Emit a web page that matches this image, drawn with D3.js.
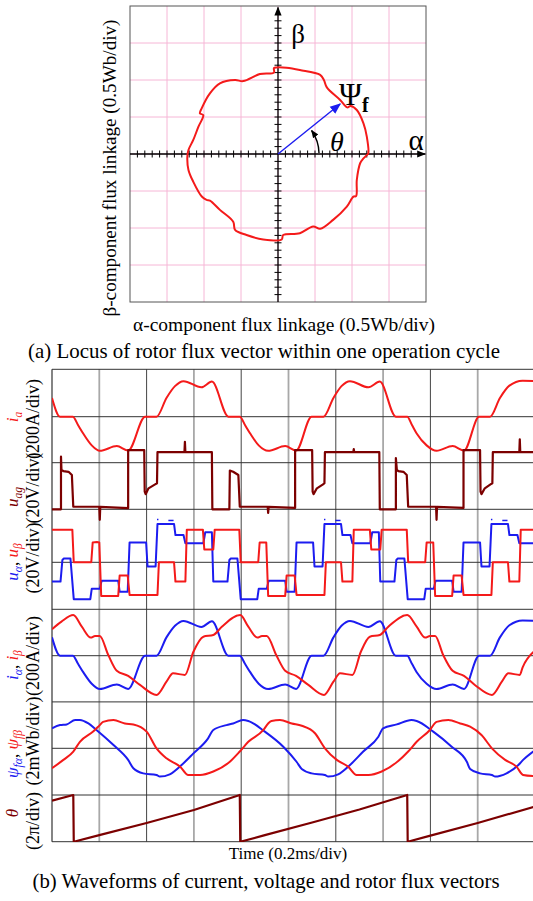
<!DOCTYPE html>
<html><head><meta charset="utf-8">
<script src="https://cdn.jsdelivr.net/npm/d3@7"></script>
<style>
body{margin:0;background:#fff}
svg{display:block}
text{font-family:"Liberation Serif","Times New Roman",serif}
</style>
</head><body>
<svg id="c" width="533" height="901"></svg>
<script>
// ---------------- DATA ----------------
// (a) rotor flux locus, Wb (alpha, beta)
const locusAlpha = [1.22,1.20,1.155,1.065,0.98,0.935,0.84,0.66,0.62,0.57,0.295,0.115,-0.02,-0.055,-0.055,-0.245,-0.47,-0.58,-0.785,-0.92,-1.03,-1.055,-1.01,-1.075,-1.145,-1.21,-1.225,-1.21,-1.145,-1.03,-0.965,-0.92,-0.785,-0.605,-0.58,-0.425,-0.20,0.05,0.07,0.295,0.475,0.57,0.745,0.93,1.02,1.055,1.065,1.11,1.155,1.20];
const locusBeta  = [0.01,0.235,0.415,0.595,0.65,0.63,0.73,0.90,1.0,1.07,1.135,1.165,1.17,1.16,1.10,1.08,0.985,1.0,0.955,0.82,0.62,0.55,0.525,0.37,0.19,0.055,-0.035,-0.215,-0.375,-0.575,-0.62,-0.63,-0.755,-0.915,-1.025,-1.095,-1.155,-1.155,-1.095,-1.07,-0.98,-1.01,-0.89,-0.71,-0.575,-0.57,-0.35,-0.125,-0.06,-0.015];
const psiVector = [0.84, 0.675];
const locusTickStep = 0.1;   // minor ticks, Wb
const locusGridStep = 0.5;   // 0.5 Wb/div

// (b) waveforms: [time (div, 0.2 ms/div), value]
const ia = [[0,79],[0.17,0],[0.44,0],[0.55,-35],[0.66,-71],[0.84,-121],[1.01,-144],[1.37,-124],[1.61,-143],[1.97,0],[2.21,0],[2.42,79],[2.60,129],[2.78,150],[3.16,124],[3.38,148],[3.73,0],[3.97,0],[4.08,-35],[4.19,-71],[4.37,-121],[4.57,-144],[4.93,-124],[5.16,-143],[5.49,0],[5.74,0],[5.95,79],[6.12,129],[6.30,150],[6.69,124],[6.93,148],[7.27,0],[7.51,0],[7.61,-35],[7.71,-71],[7.92,-121],[8.13,-144],[8.47,-124],[8.71,-143],[9.03,0],[9.26,0],[9.47,79],[9.67,131],[9.95,152],[10.2,150]];
const uag = [[0,0],[0.19,0],[0.19,22.6],[0.20,17],[0.24,16.4],[0.35,16.1],[0.42,14.7],[0.45,1.1],[1.0,1.1],[1.01,-4.5],[1.02,1.0],[1.61,0.5],[1.61,25.4],[1.95,25.4],[1.96,7.6],[1.98,6.5],[2.04,9.0],[2.18,10.7],[2.22,11.2],[2.23,24.5],[2.80,24.5],[2.81,29],[2.82,24.5],[3.38,24.5],[3.39,0],[3.75,0],[3.76,16.6],[3.83,16.1],[3.94,14.7],[3.97,1.1],[4.56,1.1],[4.57,-1.5],[4.58,1.0],[5.14,0.6],[5.14,25.4],[5.50,25.4],[5.51,7.6],[5.53,6.5],[5.60,9.0],[5.73,10.7],[5.76,11.2],[5.77,24.5],[6.37,24.5],[6.38,25.8],[6.39,24.5],[6.92,24.5],[6.93,0],[7.27,0],[7.27,22],[7.29,17],[7.32,16.4],[7.43,16.1],[7.50,14.7],[7.53,1.1],[8.12,1.1],[8.13,-4.5],[8.14,1.0],[8.70,0.6],[8.70,25.4],[9.05,25.4],[9.06,7.6],[9.08,6.5],[9.15,9.0],[9.27,10.7],[9.31,11.2],[9.32,24.5],[9.88,24.5],[9.89,30],[9.90,24.5],[10.2,24.5]];
const uAlpha = [[0,-8.2],[0.18,-8.2],[0.22,1.0],[0.25,1.6],[0.39,1.6],[0.46,-15.7],[0.81,-15.7],[0.84,-11.3],[1.01,-11.3],[1.05,-7.8],[1.40,-7.8],[1.43,-12.5],[1.60,-12.5],[1.64,8.4],[1.99,8.4],[2.02,-1.8],[2.19,-1.8],[2.23,16.3],[2.58,16.3],[2.61,11.6],[2.78,11.6],[2.82,8.1],[3.20,8.1],[3.24,12.8],[3.38,12.8],[3.41,-8.2],[3.71,-8.2],[3.75,1.0],[3.78,1.6],[3.92,1.6],[3.99,-15.7],[4.34,-15.7],[4.37,-11.3],[4.54,-11.3],[4.58,-7.8],[4.93,-7.8],[4.96,-12.5],[5.13,-12.5],[5.17,8.4],[5.52,8.4],[5.55,-1.8],[5.72,-1.8],[5.76,16.3],[6.11,16.3],[6.14,11.6],[6.31,11.6],[6.35,8.1],[6.73,8.1],[6.77,12.8],[6.91,12.8],[6.94,-8.2],[7.24,-8.2],[7.28,1.0],[7.31,1.6],[7.45,1.6],[7.52,-15.7],[7.87,-15.7],[7.90,-11.3],[8.07,-11.3],[8.11,-7.8],[8.46,-7.8],[8.49,-12.5],[8.66,-12.5],[8.70,8.4],[9.05,8.4],[9.08,-1.8],[9.25,-1.8],[9.29,16.3],[9.64,16.3],[9.67,11.6],[9.84,11.6],[9.88,8.1],[10.2,8.1]];
const uAlphaGlitches = [[2.22,2.25,18.2],[2.46,2.57,17.8],[5.75,5.78,18.2],[5.99,6.10,17.8],[9.28,9.31,18.2],[9.52,9.63,17.8]];
const uBeta = [[0,13.9],[0.43,13.9],[0.46,0],[0.83,0],[0.86,8.4],[0.95,8.6],[1.0,8.4],[1.04,-14.3],[1.40,-14.3],[1.43,-5.6],[1.60,-5.6],[1.64,-13.9],[2.23,-13.9],[2.26,0],[2.58,0],[2.61,-8.2],[2.82,-8.2],[2.85,13.9],[3.19,13.9],[3.22,5.5],[3.41,5.5],[3.44,13.9],[3.96,13.9],[3.99,0],[4.36,0],[4.39,8.4],[4.53,8.4],[4.57,-14.3],[4.93,-14.3],[4.96,-5.6],[5.13,-5.6],[5.17,-13.9],[5.76,-13.9],[5.79,0],[6.11,0],[6.14,-8.2],[6.35,-8.2],[6.38,13.9],[6.72,13.9],[6.75,5.5],[6.94,5.5],[6.97,13.9],[7.50,13.9],[7.53,0],[7.89,0],[7.92,8.4],[8.06,8.4],[8.10,-14.3],[8.46,-14.3],[8.49,-5.6],[8.66,-5.6],[8.70,-13.9],[9.29,-13.9],[9.32,0],[9.64,0],[9.67,-8.2],[9.88,-8.2],[9.91,13.9],[10.2,13.9]];
const iAlpha = [[0,79],[0.17,0],[0.44,0],[0.55,-35],[0.66,-71],[0.84,-121],[1.01,-144],[1.37,-124],[1.61,-143],[1.97,0],[2.21,0],[2.42,79],[2.60,129],[2.78,150],[3.16,124],[3.38,148],[3.73,0],[3.97,0],[4.08,-35],[4.19,-71],[4.37,-121],[4.57,-144],[4.93,-124],[5.16,-143],[5.49,0],[5.74,0],[5.95,79],[6.12,129],[6.30,150],[6.69,124],[6.93,148],[7.27,0],[7.51,0],[7.61,-35],[7.71,-71],[7.92,-121],[8.13,-144],[8.47,-124],[8.71,-143],[9.03,0],[9.26,0],[9.47,79],[9.67,131],[9.95,152],[10.2,150]];
const iBeta = [[0,114],[0.20,147],[0.45,175],[0.63,125],[0.82,78],[0.91,85],[1.01,85],[1.19,3],[1.37,-65],[1.61,-87],[1.86,-126],[2.21,-169],[2.42,-112],[2.56,-76],[2.81,-83],[2.99,17],[3.20,82],[3.41,89],[3.59,125],[3.98,175],[4.15,125],[4.34,78],[4.44,85],[4.54,85],[4.74,3],[4.93,-65],[5.16,-87],[5.42,-126],[5.75,-169],[5.95,-112],[6.09,-76],[6.35,-83],[6.53,17],[6.72,82],[6.93,89],[7.11,125],[7.51,175],[7.71,125],[7.89,78],[7.99,85],[8.10,85],[8.27,3],[8.47,-65],[8.71,-87],[8.94,-126],[9.30,-169],[9.51,-112],[9.65,-76],[9.89,-83],[9.95,-50],[10.2,20]];
const psiAlpha = [[0,0.86],[0.17,1.0],[0.31,1.03],[0.49,1.22],[0.59,1.22],[0.77,1.07],[0.94,0.79],[1.30,0.14],[1.61,-0.50],[1.72,-0.86],[1.93,-1.08],[2.21,-1.15],[2.28,-1.22],[2.49,-1.12],[2.74,-0.72],[2.99,-0.22],[3.30,0.43],[3.41,0.79],[3.69,1.0],[3.83,1.07],[4.04,1.22],[4.15,1.18],[4.50,0.72],[4.89,0.07],[5.17,-0.58],[5.28,-0.89],[5.49,-1.08],[5.77,-1.15],[5.84,-1.22],[6.05,-1.12],[6.30,-0.72],[6.58,-0.14],[6.90,0.50],[7.00,0.86],[7.29,1.03],[7.60,1.22],[7.71,1.18],[8.06,0.72],[8.45,0.07],[8.77,-0.58],[8.84,-0.89],[9.05,-1.08],[9.30,-1.15],[9.37,-1.22],[9.61,-1.08],[9.86,-0.72],[9.96,-0.50],[10.2,-0.1]];
const psiBeta = [[0,-0.86],[0.24,-0.50],[0.45,-0.14],[0.59,0.28],[0.87,0.72],[1.01,1.0],[1.08,1.14],[1.30,1.22],[1.54,1.07],[1.72,1.03],[2.00,0.72],[2.21,0],[2.42,-0.43],[2.71,-0.79],[2.88,-1.15],[3.13,-1.15],[3.41,-1.0],[3.76,-0.58],[3.97,-0.14],[4.15,0.28],[4.47,0.79],[4.57,1.07],[4.64,1.18],[4.82,1.22],[5.07,1.07],[5.28,0.97],[5.56,0.65],[5.77,0],[6.02,-0.50],[6.26,-0.79],[6.44,-1.15],[6.69,-1.15],[6.97,-1.0],[7.32,-0.55],[7.53,-0.14],[7.71,0.28],[7.99,0.79],[8.13,1.14],[8.38,1.22],[8.63,1.07],[8.84,0.93],[9.08,0.57],[9.30,0],[9.58,-0.50],[9.82,-0.79],[9.96,-1.15],[10.2,-1.2]];
const theta = [[0,0.88],[0.45,1.0],[0.46,0],[1.0,0.14],[2.0,0.40],[3.0,0.68],[3.97,1.0],[3.98,0],[4.5,0.14],[5.5,0.41],[6.5,0.69],[7.51,1.0],[7.52,0],[8.0,0.13],[9.0,0.40],[10.2,0.75]];
const timeDivs = [1,2,3,4,5,6,7,8,9];

// ---------------- DRAW ----------------
const svg = d3.select("#c");
const RED = "#f41a1a", BLUE = "#1c1cf0", DRED = "#7c0000";

svg.append("defs").html(`
 <marker id="ab" viewBox="0 0 10 10" refX="9" refY="5" markerWidth="9" markerHeight="9" markerUnits="userSpaceOnUse" orient="auto"><path d="M0,1 L10,5 L0,9 z" fill="#000"/></marker>
 <marker id="ab2" viewBox="0 0 10 10" refX="9" refY="5" markerWidth="8" markerHeight="8" markerUnits="userSpaceOnUse" orient="auto"><path d="M0,1 L10,5 L0,9 z" fill="#000"/></marker>
 <marker id="bb" viewBox="0 0 10 10" refX="9" refY="5" markerWidth="11" markerHeight="11" markerUnits="userSpaceOnUse" orient="auto"><path d="M0,1 L10,5 L0,9 z" fill="${BLUE}"/></marker>
 <clipPath id="clipB"><rect x="52" y="369" width="481" height="473"/></clipPath>
`);

// ---- (a) locus ----
const sx = d3.scaleLinear().domain([-2,2]).range([130,426]);
const sy = d3.scaleLinear().domain([-2,2]).range([302,6]);
const ga = svg.append("g");
const gv = d3.range(-1.5, 1.51, locusGridStep);
ga.selectAll(".gx").data(gv).join("line")
  .attr("x1", d=>sx(d)).attr("x2", d=>sx(d)).attr("y1", sy(2)).attr("y2", sy(-2))
  .attr("stroke", "#f6b6d6").attr("stroke-width", 1);
ga.selectAll(".gy").data(gv).join("line")
  .attr("y1", d=>sy(d)).attr("y2", d=>sy(d)).attr("x1", sx(-2)).attr("x2", sx(2))
  .attr("stroke", "#f6b6d6").attr("stroke-width", 1);
ga.append("rect").attr("x", sx(-2)).attr("y", sy(2)).attr("width", sx(2)-sx(-2)).attr("height", sy(-2)-sy(2))
  .attr("fill", "none").attr("stroke", "#555").attr("stroke-width", 1);
// axes
ga.append("line").attr("x1", sx(-2)).attr("x2", sx(1.99)).attr("y1", sy(0)).attr("y2", sy(0))
  .attr("stroke", "#000").attr("stroke-width", 1.3).attr("marker-end", "url(#ab)");
ga.append("line").attr("x1", sx(0)).attr("x2", sx(0)).attr("y1", sy(-2)).attr("y2", sy(1.98))
  .attr("stroke", "#000").attr("stroke-width", 1.3).attr("marker-end", "url(#ab)");
const tk = d3.range(-19, 20).filter(k=>k!==0).map(k=>k*locusTickStep);
ga.selectAll(".tx").data(tk.filter(v=>v<1.9)).join("line")
  .attr("x1", d=>sx(d)).attr("x2", d=>sx(d)).attr("y1", sy(0)-3.5).attr("y2", sy(0)+3.5)
  .attr("stroke", "#000").attr("stroke-width", 1);
ga.selectAll(".ty").data(tk.filter(v=>v<1.9)).join("line")
  .attr("y1", d=>sy(d)).attr("y2", d=>sy(d)).attr("x1", sx(0)-3.5).attr("x2", sx(0)+3.5)
  .attr("stroke", "#000").attr("stroke-width", 1);
// locus
const locus = locusAlpha.map((a,i)=>[a, locusBeta[i]]);
ga.append("path").datum(locus)
  .attr("d", d3.line().x(d=>sx(d[0])).y(d=>sy(d[1])).curve(d3.curveCatmullRomClosed.alpha(0.5)))
  .attr("fill", "none").attr("stroke", RED).attr("stroke-width", 2);
// psi vector
ga.append("line").attr("x1", sx(0)).attr("y1", sy(0)).attr("x2", sx(psiVector[0])).attr("y2", sy(psiVector[1]))
  .attr("stroke", BLUE).attr("stroke-width", 1.4).attr("marker-end", "url(#bb)");
// theta arc
const r = 41, a1 = 35*Math.PI/180;
ga.append("path")
  .attr("d", `M${sx(0)+r},${sy(0)-1} A${r},${r} 0 0 0 ${sx(0)+r*Math.cos(a1)},${sy(0)-r*Math.sin(a1)}`)
  .attr("fill", "none").attr("stroke", "#000").attr("stroke-width", 1.4).attr("marker-end", "url(#ab2)");
// labels
ga.append("text").attr("x", 298).attr("y", 43).attr("text-anchor", "middle").attr("font-size", 27).text("β");
ga.append("text").attr("x", 416).attr("y", 150).attr("text-anchor", "middle").attr("font-size", 29).text("α");
ga.append("text").attr("x", 337).attr("y", 151).attr("text-anchor", "middle").attr("font-size", 28).attr("font-style", "italic").text("θ");
const psiT = ga.append("text").attr("x", 339).attr("y", 105).attr("font-size", 31);
psiT.append("tspan").text("Ψ");
psiT.append("tspan").attr("font-size", 20).attr("font-weight", "bold").attr("dy", 7).text("f");
ga.append("text").attr("x", 284).attr("y", 331).attr("text-anchor", "middle").attr("font-size", 18)
  .attr("textLength", 302).attr("lengthAdjust", "spacingAndGlyphs").text("α-component flux linkage (0.5Wb/div)");
ga.append("text").attr("transform", "translate(116,168) rotate(-90)").attr("text-anchor", "middle").attr("font-size", 18)
  .attr("textLength", 297).attr("lengthAdjust", "spacingAndGlyphs").text("β-component flux linkage (0.5Wb/div)");
svg.append("text").attr("x", 264).attr("y", 358).attr("text-anchor", "middle").attr("font-size", 21)
  .attr("textLength", 472).attr("lengthAdjust", "spacingAndGlyphs").text("(a) Locus of rotor flux vector within one operation cycle");

// ---- (b) waveforms ----
const x = d3.scaleLinear().domain([0,10]).range([52, 525]);
const yIa  = d3.scaleLinear().domain([0,200]).range([416.7, 369.3]);
const yUag = d3.scaleLinear().domain([0,20]).range([509.3, 462.7]);
const yUab = d3.scaleLinear().domain([0,20]).range([562.3, 515.3]);
const yIab = d3.scaleLinear().domain([0,200]).range([655.7, 609.3]);
const yPsi = d3.scaleLinear().domain([0,2]).range([748.3, 701.9]);
const yTh  = d3.scaleLinear().domain([0,1]).range([841.7, 795]);
const gb = svg.append("g");
const hLines = [yIa(200), yIa(0), yUag(20), yUag(0), yUab(0), yIab(200), yIab(0), yPsi(2), yPsi(0), yTh(1), yTh(0)];
gb.selectAll(".vl").data(timeDivs).join("line")
  .attr("x1", d=>x(d)).attr("x2", d=>x(d)).attr("y1", yIa(200)).attr("y2", yTh(0))
  .attr("stroke", d=>d%2 ? "#a8a8a8" : "#444").attr("stroke-width", d=>d%2 ? 1.8 : 1);
gb.selectAll(".hl").data(hLines).join("line")
  .attr("x1", x(0)).attr("x2", 533).attr("y1", d=>d).attr("y2", d=>d)
  .attr("stroke", "#333").attr("stroke-width", 1);
gb.append("line").attr("x1", x(0)).attr("x2", x(0)).attr("y1", yIa(200)).attr("y2", yTh(0))
  .attr("stroke", "#333").attr("stroke-width", 1.2);

const traces = gb.append("g").attr("clip-path", "url(#clipB)");
function trace(data, ys, color, smooth, w) {
  traces.append("path").datum(data)
    .attr("d", d3.line().x(d=>x(d[0])).y(d=>ys(d[1])).curve(smooth ? d3.curveMonotoneX : d3.curveLinear))
    .attr("fill", "none").attr("stroke", color).attr("stroke-width", w || 2).attr("stroke-linejoin", "round");
}
trace(ia, yIa, RED, true);
trace(uag, yUag, DRED, false, 2.2);
trace(uAlpha, yUab, BLUE, false);
traces.selectAll(".gl").data(uAlphaGlitches).join("line")
  .attr("x1", d=>x(d[0])).attr("x2", d=>x(d[1])).attr("y1", d=>yUab(d[2])).attr("y2", d=>yUab(d[2]))
  .attr("stroke", BLUE).attr("stroke-width", 1.5);
trace(uBeta, yUab, RED, false);
trace(iAlpha, yIab, BLUE, true);
trace(iBeta, yIab, RED, true);
trace(psiAlpha, yPsi, BLUE, true);
trace(psiBeta, yPsi, RED, true);
trace(theta, yTh, DRED, false, 2.2);

// rotated panel labels
function vlabel(px, py, parts, size) {
  const t = svg.append("text").attr("transform", `translate(${px},${py}) rotate(-90)`)
    .attr("text-anchor", "middle").attr("font-size", size);
  parts.forEach(p => {
    const s = t.append("tspan").text(p.t).attr("fill", p.c || "#000");
    if (p.i) s.attr("font-style", "italic");
    if (p.sub) s.attr("font-size", size*0.68).attr("dy", 3.5);
    if (p.up) s.attr("dy", -3.5);
  });
}
vlabel(18, 417, [{t:"i",c:RED,i:1},{t:"a",c:RED,i:1,sub:1}], 17);
vlabel(39, 419, [{t:"(200A/div)"}], 18);
vlabel(18, 497, [{t:"u",c:DRED,i:1},{t:"ag",c:DRED,i:1,sub:1}], 17);
vlabel(39, 488, [{t:"(20V/div)"}], 18);
vlabel(18, 562, [{t:"u",c:BLUE,i:1},{t:"α",c:BLUE,i:1,sub:1},{t:", ",up:1},{t:"u",c:RED,i:1},{t:"β",c:RED,i:1,sub:1}], 17);
vlabel(39, 558, [{t:"(20V/div)"}], 18);
vlabel(18, 665, [{t:"i",c:BLUE,i:1},{t:"α",c:BLUE,i:1,sub:1},{t:", ",up:1},{t:"i",c:RED,i:1},{t:"β",c:RED,i:1,sub:1}], 17);
vlabel(39, 656, [{t:"(200A/div)"}], 18);
vlabel(18, 754, [{t:"ψ",c:BLUE,i:1},{t:"fα",c:BLUE,i:1,sub:1},{t:", ",up:1},{t:"ψ",c:RED,i:1},{t:"fβ",c:RED,i:1,sub:1}], 17);
vlabel(39, 741, [{t:"(2mWb/div)"}], 18);
vlabel(18, 813, [{t:"θ",c:DRED,i:1}], 17);
vlabel(39, 821, [{t:"(2π/div)"}], 18);

svg.append("text").attr("x", 288).attr("y", 859).attr("text-anchor", "middle").attr("font-size", 17).text("Time (0.2ms/div)");
svg.append("text").attr("x", 266).attr("y", 888).attr("text-anchor", "middle").attr("font-size", 21)
  .attr("textLength", 467).attr("lengthAdjust", "spacingAndGlyphs").text("(b) Waveforms of current, voltage and rotor flux vectors");
</script>
</body></html>
